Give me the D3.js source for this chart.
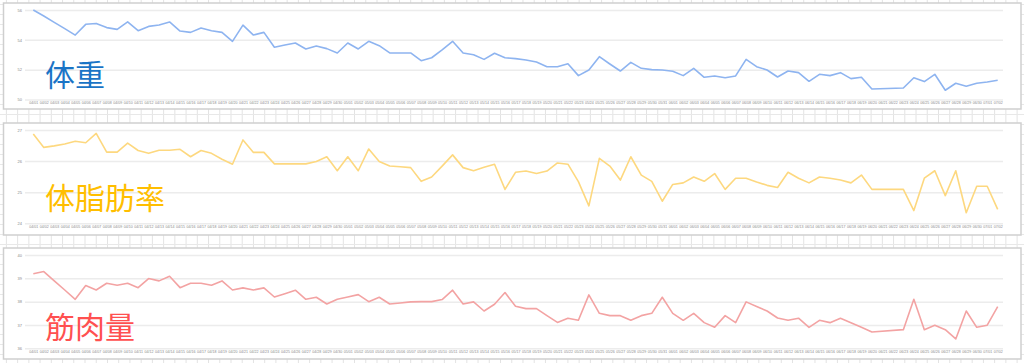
<!DOCTYPE html>
<html><head><meta charset="utf-8">
<script src="https://cdn.jsdelivr.net/npm/d3@7"></script>
<style>
html,body{margin:0;padding:0;background:#fff;}
svg{display:block;}
</style></head>
<body>
<svg id="c" width="1024" height="363"></svg>
<script>
const dates = ["04/01","04/02","04/03","04/04","04/05","04/06","04/07","04/08","04/09","04/10","04/11","04/12","04/13","04/14","04/15","04/16","04/17","04/18","04/19","04/20","04/21","04/22","04/23","04/24","04/25","04/26","04/27","04/28","04/29","04/30",
"05/01","05/02","05/03","05/04","05/05","05/06","05/07","05/08","05/09","05/10","05/11","05/12","05/13","05/14","05/15","05/16","05/17","05/18","05/19","05/20","05/21","05/22","05/23","05/24","05/25","05/26","05/27","05/28","05/29","05/30","05/31",
"06/01","06/02","06/03","06/04","06/05","06/06","06/07","06/08","06/09","06/10","06/11","06/12","06/13","06/14","06/15","06/16","06/17","06/18","06/19","06/20","06/21","06/22","06/23","06/24","06/25","06/26","06/27","06/28","06/29","06/30",
"07/01","07/02"];

const weight = [56.0,55.6,55.17,54.75,54.32,55.04,55.1,54.82,54.7,55.2,54.61,54.9,54.99,55.2,54.59,54.5,54.79,54.61,54.5,53.9,54.99,54.32,54.5,53.5,53.65,53.79,53.39,53.59,53.41,53.12,
53.79,53.39,53.9,53.61,53.12,53.12,53.12,52.6,52.8,53.32,53.9,53.12,53.0,52.69,53.1,52.8,52.74,52.65,52.51,52.2,52.2,52.4,51.6,51.98,52.87,52.38,51.91,52.49,52.09,52.0,51.98,
51.89,51.6,52.09,51.49,51.58,51.46,51.58,52.69,52.2,51.98,51.51,51.91,51.8,51.22,51.69,51.6,51.8,51.4,51.49,50.7,null,null,50.77,51.46,51.2,51.69,50.62,51.09,50.89,51.09,
51.17,51.29];

const bodyFat = [26.87,26.44,26.49,26.55,26.64,26.59,26.89,26.29,26.29,26.58,26.34,26.25,26.35,26.35,26.38,26.14,26.34,26.25,26.06,25.9,26.68,26.28,26.28,25.91,25.91,25.91,25.91,25.99,26.14,25.69,
26.14,25.69,26.39,25.99,25.84,25.82,25.79,25.35,25.49,25.84,26.2,25.79,25.69,25.8,25.9,25.09,25.64,25.68,25.6,25.68,25.94,25.9,25.34,24.56,26.09,25.84,25.39,26.14,25.55,25.35,24.71,
25.25,25.3,25.49,25.35,25.6,25.09,25.45,25.45,25.33,25.22,25.15,25.64,25.45,25.3,25.49,25.45,25.39,25.3,25.55,25.09,null,null,25.09,24.41,25.45,25.69,24.89,25.69,24.34,25.19,
25.19,24.45];

const muscle = [39.2,39.29,38.89,38.5,38.1,38.69,38.5,38.79,38.7,38.79,38.6,38.99,38.89,39.09,38.6,38.79,38.79,38.7,38.89,38.5,38.59,38.5,38.59,38.2,38.34,38.49,38.1,38.19,37.9,38.1,
38.2,38.3,38.0,38.19,37.9,37.94,37.99,38.0,38.0,38.09,38.49,37.9,37.99,37.6,37.89,38.39,37.8,37.7,37.7,37.4,37.11,37.29,37.2,38.29,37.5,37.4,37.4,37.2,37.4,37.5,38.19,
37.5,37.2,37.5,37.1,36.9,37.4,37.1,37.99,37.79,37.6,37.3,37.2,37.29,36.9,37.2,37.1,37.29,37.1,36.9,36.7,null,null,36.8,38.1,36.8,36.99,36.8,36.4,37.6,36.9,
36.99,37.79];

const weightTicks = [50,52,54,56];
const fatTicks = [24,25,26,27];
const muscleTicks = [36,37,38,39,40];

const titles = ["体重","体脂肪率","筋肉量"];

const svg = d3.select("#c");

// spreadsheet background grid
const bg = svg.append("g");
for (let x = 6.4; x < 1024; x += 11.23) {
  bg.append("line").attr("x1", x).attr("x2", x).attr("y1", 0).attr("y2", 363)
    .attr("stroke", "#e3e3e3").attr("stroke-width", 1);
}
for (let y = 4.5; y < 363; y += 10) {
  bg.append("line").attr("x1", 0).attr("x2", 1024).attr("y1", y).attr("y2", y)
    .attr("stroke", "#e8e8e8").attr("stroke-width", 1);
}

const x = d3.scalePoint().domain(dates).range([33.3, 997.7]);

const panels = [
  {title: titles[0], values: weight, ticks: weightTicks, box: [3.5, 3, 1021, 109], yr: [99.5, 10], color: "#8eb4f0", tcolor: "#1a74c6", base: 86, xlab: 103.5},
  {title: titles[1], values: bodyFat, ticks: fatTicks, box: [3.5, 123, 1021, 235], yr: [223.3, 130], color: "#fdd87f", tcolor: "#ffbe00", base: 209, xlab: 227.5},
  {title: titles[2], values: muscle, ticks: muscleTicks, box: [3.5, 248, 1021, 359], yr: [348.3, 255], color: "#f3a3a3", tcolor: "#ff5050", base: 338, xlab: 352.5}
];

panels.forEach(p => {
  const g = svg.append("g");
  g.append("rect").attr("x", p.box[0]).attr("y", p.box[1])
    .attr("width", p.box[2] - p.box[0]).attr("height", p.box[3] - p.box[1])
    .attr("fill", "#fff").attr("stroke", "#cfcfcf").attr("stroke-width", 1.5);

  const y = d3.scaleLinear().domain(d3.extent(p.ticks)).range(p.yr);

  const ya = g.append("g").attr("transform", "translate(25,0)")
    .call(d3.axisLeft(y).tickValues(p.ticks).tickSize(-978).tickPadding(3).tickFormat(d3.format("d")));
  ya.select(".domain").remove();
  ya.selectAll(".tick line").attr("stroke", "#ececec").attr("stroke-width", 1.5);
  ya.selectAll(".tick text").attr("fill", "#8a8a8a").style("font-size", "4px").style("font-family", "Liberation Sans, Arial, sans-serif");

  const xa = g.append("g").attr("transform", `translate(0,${p.xlab - 3})`)
    .call(d3.axisBottom(x).tickSize(0).tickPadding(1));
  xa.select(".domain").remove();
  xa.selectAll(".tick text").attr("fill", "#8a8a8a").style("font-size", "3.6px").style("font-family", "Liberation Sans, Arial, sans-serif");

  const pts = dates.map((d, i) => ({d, v: p.values[i]})).filter(o => o.v !== null);
  const line = d3.line().x(o => x(o.d)).y(o => y(o.v));
  g.append("path").datum(pts).attr("d", line)
    .attr("fill", "none").attr("stroke", p.color).attr("stroke-width", 1.6)
    .attr("stroke-linejoin", "round");

  g.append("text").attr("x", 45).attr("y", p.base).text(p.title)
    .attr("fill", p.tcolor).style("font-size", "30px")
    .style("font-family", "'Noto Sans CJK JP', sans-serif");
});
</script>
</body></html>
